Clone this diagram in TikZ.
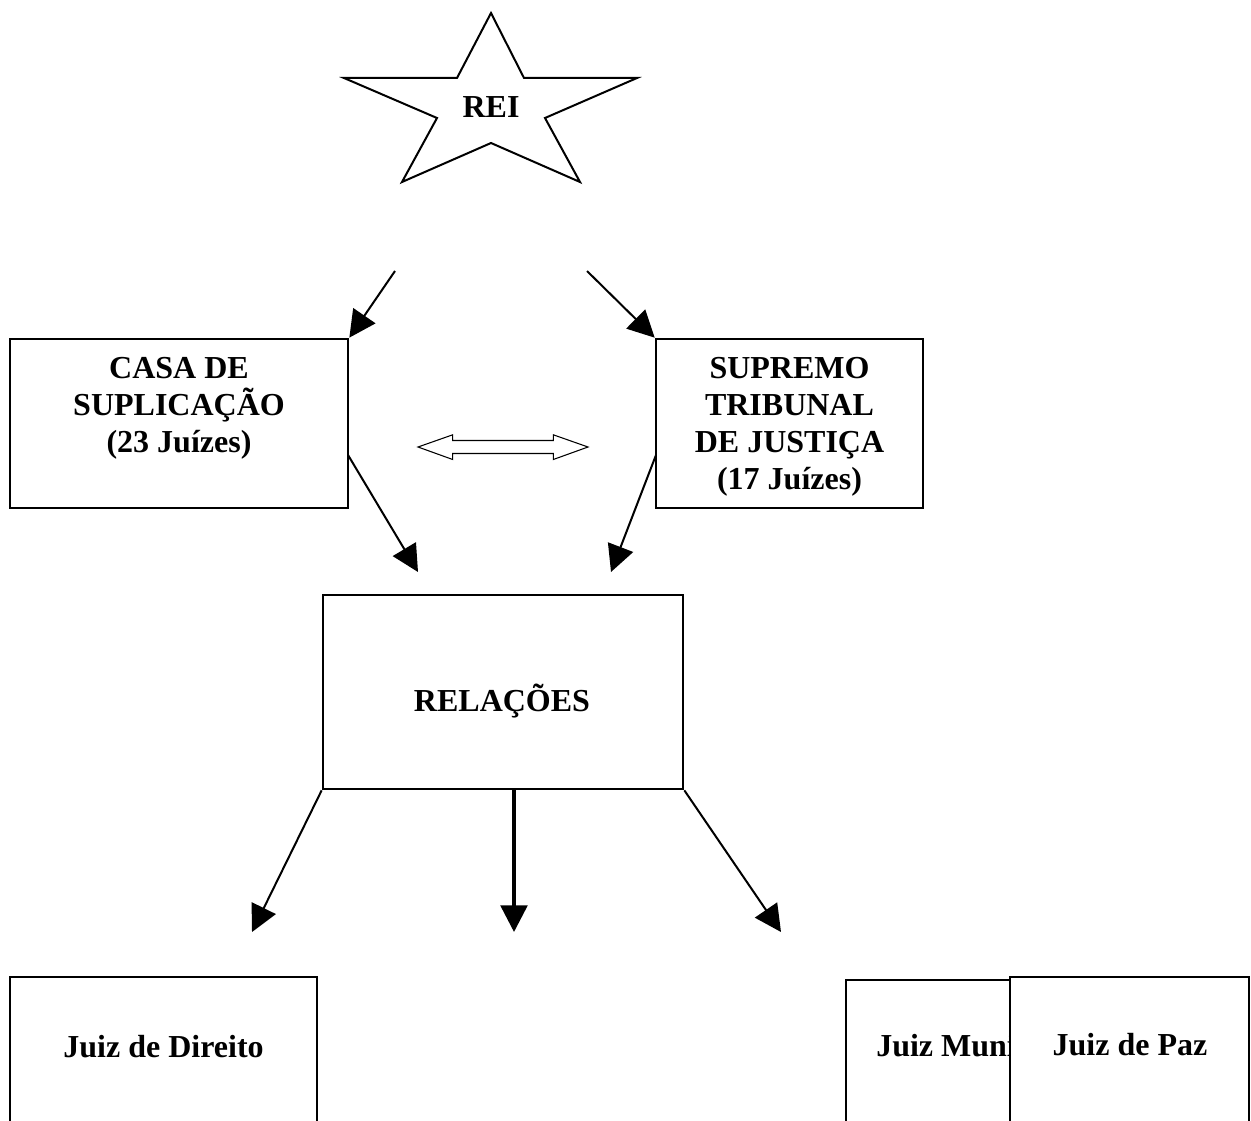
\documentclass[tikz,border=0pt]{standalone}
\usepackage{fontspec}
\setmainfont{Liberation Serif}
\usetikzlibrary{arrows.meta, positioning, fit}

\tikzset{
  box/.style={draw, line width=2pt, inner sep=0pt, fill=white},
  lbl/.style={font=\bfseries\fontsize{24}{27.75}\selectfont, align=center, inner sep=0pt},
  seta/.style={-{Triangle[length=20pt, width=20pt]}, line width=1.5pt},
}

\begin{document}
\begin{tikzpicture}[x=0.75pt, y=-0.75pt]
    % área visível
    \clip (0, 0) rectangle (1251, 1120);

    % estrela do Rei
    \draw[line width=1.5pt, line join=miter] (491, 13) -- (524, 78) -- (637, 78) -- (545, 118)
        -- (580, 182) -- (491, 143) -- (402, 182) -- (437, 118) -- (344, 78) -- (457, 78) -- cycle;
    \node[lbl, anchor=base] (rei) at (491, 117.7) {REI};

    % caixas
    \node[box, fit={(10, 339) (348, 508)}] (casa) {};
    \node[lbl, anchor=north, below=14.5pt of casa.north] (casatxt) {CASA DE\\SUPLICAÇÃO\\(23 Juízes)};

    \node[box, fit={(656, 339) (923, 508)}] (supremo) {};
    \node[lbl, anchor=north, below=14.5pt of supremo.north] (supremotxt) {SUPREMO\\TRIBUNAL\\DE JUSTIÇA\\(17 Juízes)};

    \node[box, fit={(323, 595) (683, 789)}] (relacoes) {};
    \node[lbl, anchor=base] (relacoestxt) at (502, 711) {RELAÇÕES};

    \node[box, fit={(10, 977) (317, 1130)}] (direito) {};
    \node[lbl, anchor=base] (direitotxt) at (163.5, 1057) {Juiz de Direito};

    \node[box, fit={(846, 980) (1111, 1130)}] (municipal) {};
    \node[lbl, anchor=base west] (municipaltxt) at (876, 1056) {Juiz Municipal};

    \node[box, fit={(1010, 977) (1249, 1130)}] (paz) {};
    \node[lbl, anchor=base] (paztxt) at (1130, 1055) {Juiz de Paz};

    % pontas livres das setas
    \coordinate (reiL) at (395, 271);
    \coordinate (reiR) at (587, 271);
    \coordinate (casaR) at (348, 455);
    \coordinate (supremoL) at (656, 455);
    \coordinate (pontaCasa) at (418, 572);
    \coordinate (pontaSupremo) at (611, 572);
    \coordinate (relacoesS) at (514, 789);
    \coordinate (pontaE) at (252, 932);
    \coordinate (pontaM) at (514, 932);
    \coordinate (pontaD) at (781, 932);

    % setas
    \draw[seta] (reiL) -- (casa.north east);
    \draw[seta] (reiR) -- (supremo.north west);
    \draw[seta] (casaR) -- (pontaCasa);
    \draw[seta] (supremoL) -- (pontaSupremo);
    \draw[seta] (relacoes.south west) -- (pontaE);
    \draw[seta, line width=2.6pt] (relacoesS) -- (pontaM);
    \draw[seta] (relacoes.south east) -- (pontaD);

    % seta dupla entre os tribunais
    \draw[line width=0.8pt, fill=white] (418, 447) -- (452.7, 434.8) -- (452.7, 440.5) -- (553.3, 440.5)
        -- (553.3, 434.8) -- (588, 447) -- (553.3, 459.5) -- (553.3, 453.5) -- (452.7, 453.5)
        -- (452.7, 459.5) -- cycle;
\end{tikzpicture}
\end{document}
